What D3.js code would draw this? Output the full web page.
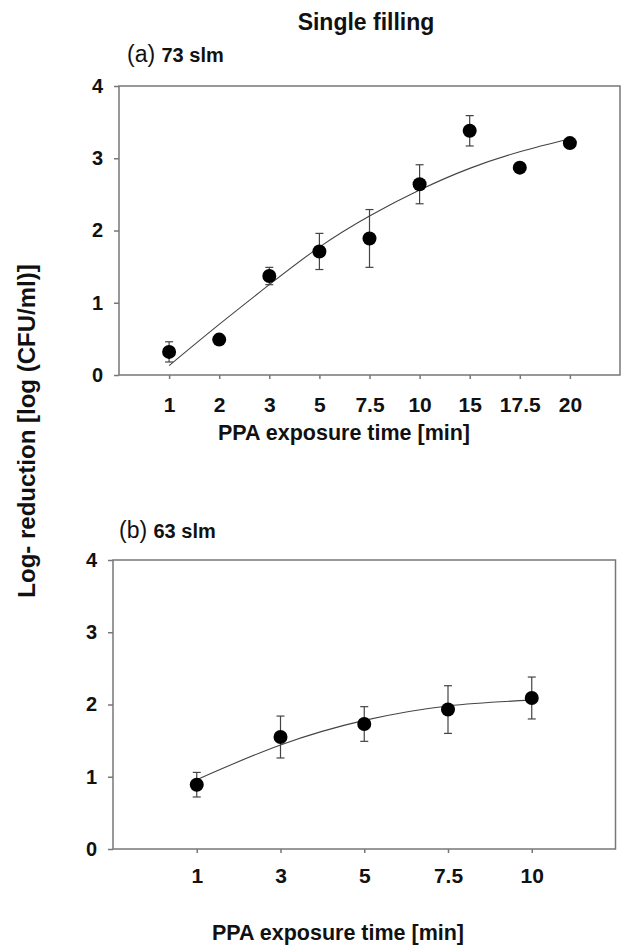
<!DOCTYPE html>
<html>
<head>
<meta charset="utf-8">
<script src="https://cdn.jsdelivr.net/npm/d3@7"></script>
<style>
  body { margin: 0; background: #fff; }
  svg text { font-family: "Liberation Sans", Arial, sans-serif; fill: #111; }
</style>
</head>
<body>
<div id="chart-container"></div>
<script>
// panel (a) 73 slm
const topTimes = ['1', '2', '3', '5', '7.5', '10', '15', '17.5', '20'];
const topMeans = [0.32, 0.49, 1.37, 1.71, 1.89, 2.64, 3.38, 2.87, 3.21];
const topErr = [0.14, 0, 0.12, 0.25, 0.40, 0.27, 0.21, 0.05, 0];
const topFit = [0.13, 0.70, 1.25, 1.77, 2.20, 2.56, 2.86, 3.09, 3.27];

// panel (b) 63 slm
const bottomTimes = ['1', '3', '5', '7.5', '10'];
const bottomMeans = [0.89, 1.55, 1.73, 1.93, 2.09];
const bottomErr = [0.17, 0.29, 0.24, 0.33, 0.29];
const bottomFit = [0.96, 1.44, 1.78, 1.98, 2.06];

const yTicks = [0, 1, 2, 3, 4];

const svg = d3.select('#chart-container')
  .append('svg')
  .attr('width', 622)
  .attr('height', 951);

// title
svg.append('text')
  .attr('x', 366)
  .attr('y', 30)
  .attr('text-anchor', 'middle')
  .style('font-size', '23px')
  .style('font-weight', 'bold')
  .text('Single filling');

// y axis title (shared)
svg.append('text')
  .attr('transform', 'translate(35, 431) rotate(-90)')
  .attr('text-anchor', 'middle')
  .style('font-size', '24px')
  .style('font-weight', 'bold')
  .text('Log- reduction [log (CFU/ml)]');

function drawPanel(opts) {
  const { times, means, errs, fit, left, right, top, bottom, xPad, label, tag, labelX, labelY, titleX, titleY } = opts;

  const x = d3.scalePoint()
    .domain(times)
    .range([left, right])
    .padding(1);

  const y = d3.scaleLinear()
    .domain([0, 4])
    .range([bottom, top]);

  const g = svg.append('g');

  // frame
  g.append('rect')
    .attr('x', left)
    .attr('y', top)
    .attr('width', right - left)
    .attr('height', bottom - top)
    .attr('fill', 'none')
    .attr('stroke', '#777')
    .attr('stroke-width', 1.5);

  // axes
  const yAxis = g.append('g')
    .attr('transform', `translate(${left},0)`)
    .call(d3.axisLeft(y).tickValues(yTicks).tickFormat(d3.format('d')).tickSize(5).tickPadding(11));

  const xAxis = g.append('g')
    .attr('transform', `translate(0,${bottom})`)
    .call(d3.axisBottom(x).tickSize(4).tickPadding(xPad));

  [yAxis, xAxis].forEach(a => {
    a.select('.domain').remove();
    a.selectAll('.tick line').attr('stroke', '#777').attr('stroke-width', 1.5);
    a.selectAll('.tick text')
      .style('font-family', '"Liberation Sans", Arial, sans-serif')
      .style('font-weight', 'bold')
      .attr('fill', '#111');
  });
  yAxis.selectAll('.tick text').style('font-size', '20px');
  xAxis.selectAll('.tick text').style('font-size', '21px');

  // fitted curve
  const line = d3.line()
    .x((d, i) => x(times[i]))
    .y(d => y(d))
    .curve(d3.curveNatural);

  g.append('path')
    .datum(fit)
    .attr('d', line)
    .attr('fill', 'none')
    .attr('stroke', '#444')
    .attr('stroke-width', 1.1);

  // error bars
  const eb = g.selectAll('.err')
    .data(means.map((m, i) => ({ t: times[i], m: m, e: errs[i] })).filter(d => d.e > 0))
    .enter()
    .append('g')
    .attr('class', 'err')
    .attr('stroke', '#444')
    .attr('stroke-width', 1.2);

  eb.append('line')
    .attr('x1', d => x(d.t)).attr('x2', d => x(d.t))
    .attr('y1', d => y(d.m - d.e)).attr('y2', d => y(d.m + d.e));
  eb.append('line')
    .attr('x1', d => x(d.t) - 4).attr('x2', d => x(d.t) + 4)
    .attr('y1', d => y(d.m + d.e)).attr('y2', d => y(d.m + d.e));
  eb.append('line')
    .attr('x1', d => x(d.t) - 4).attr('x2', d => x(d.t) + 4)
    .attr('y1', d => y(d.m - d.e)).attr('y2', d => y(d.m - d.e));

  // points
  g.selectAll('.dot')
    .data(means)
    .enter()
    .append('circle')
    .attr('class', 'dot')
    .attr('cx', (d, i) => x(times[i]))
    .attr('cy', d => y(d))
    .attr('r', 7)
    .attr('fill', '#000');

  // panel label
  const pl = svg.append('text')
    .attr('x', labelX)
    .attr('y', labelY);
  pl.append('tspan').style('font-size', '23px').text(label + ' ');
  pl.append('tspan').style('font-size', '20px').style('font-weight', 'bold').text(tag);

  // x axis title
  svg.append('text')
    .attr('x', titleX)
    .attr('y', titleY)
    .attr('text-anchor', 'middle')
    .style('font-size', '21.5px')
    .style('font-weight', 'bold')
    .text('PPA exposure time [min]');
}

drawPanel({
  times: topTimes, means: topMeans, errs: topErr, fit: topFit,
  left: 119, right: 620, top: 86, bottom: 375, xPad: 18,
  label: '(a)', tag: '73 slm', labelX: 127, labelY: 62, titleX: 344, titleY: 440
});

drawPanel({
  times: bottomTimes, means: bottomMeans, errs: bottomErr, fit: bottomFit,
  left: 113, right: 615.5, top: 560, bottom: 849, xPad: 15,
  label: '(b)', tag: '63 slm', labelX: 119, labelY: 538, titleX: 338, titleY: 940
});
</script>
</body>
</html>
